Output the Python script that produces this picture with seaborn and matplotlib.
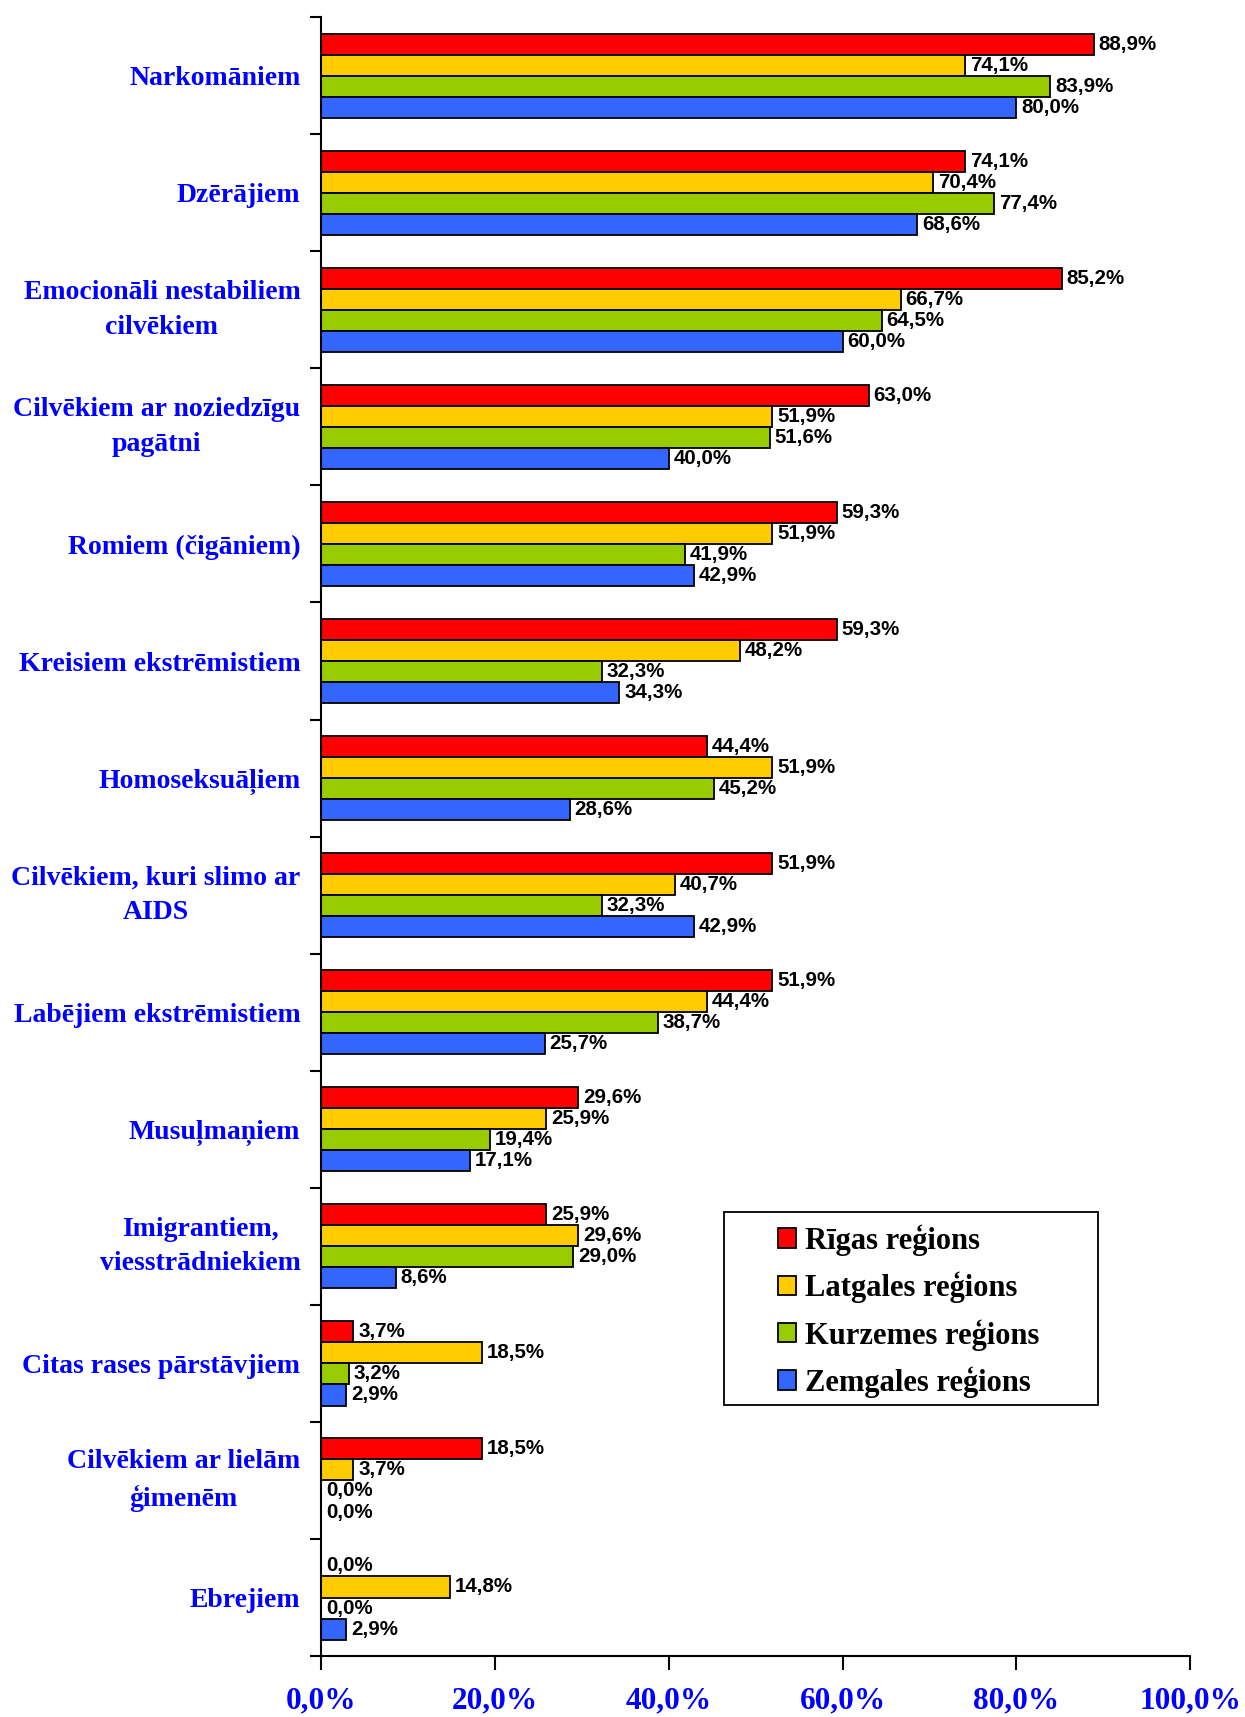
import numpy as np
import pandas as pd
import seaborn as sns
import matplotlib.pyplot as plt
from matplotlib.patches import Rectangle
from matplotlib.ticker import FixedLocator

# data
categories = ['Narkomāniem', 'Dzērājiem', 'Emocionāli nestabiliem\ncilvēkiem',
              'Cilvēkiem ar noziedzīgu\npagātni', 'Romiem (čigāniem)',
              'Kreisiem ekstrēmistiem', 'Homoseksuāļiem',
              'Cilvēkiem, kuri slimo ar\nAIDS', 'Labējiem ekstrēmistiem',
              'Musuļmaņiem', 'Imigrantiem,\nviesstrādniekiem',
              'Citas rases pārstāvjiem', 'Cilvēkiem ar lielām\nģimenēm', 'Ebrejiem']
regions = ['Rīgas reģions', 'Latgales reģions', 'Kurzemes reģions', 'Zemgales reģions']
rigas = [88.9, 74.1, 85.2, 63.0, 59.3, 59.3, 44.4, 51.9, 51.9, 29.6, 25.9, 3.7, 18.5, 0.0]
latgales = [74.1, 70.4, 66.7, 51.9, 51.9, 48.2, 51.9, 40.7, 44.4, 25.9, 29.6, 18.5, 3.7, 14.8]
kurzemes = [83.9, 77.4, 64.5, 51.6, 41.9, 32.3, 45.2, 32.3, 38.7, 19.4, 29.0, 3.2, 0.0, 0.0]
zemgales = [80.0, 68.6, 60.0, 40.0, 42.9, 34.3, 28.6, 42.9, 25.7, 17.1, 8.6, 2.9, 0.0, 2.9]
xticks = [0, 20, 40, 60, 80, 100]
colors = ['#FF0000', '#FFCC00', '#99CC00', '#3366FF']

series = [rigas, latgales, kurzemes, zemgales]
df = pd.DataFrame({
    'kategorija': categories * 4,
    'regions': np.repeat(regions, len(categories)),
    'vertiba': np.concatenate(series),
})

sns.set_theme(style='white')
serif = ['Liberation Serif', 'DejaVu Serif']
sans = ['Liberation Sans', 'DejaVu Sans']

fig = plt.figure(figsize=(12.45, 17.17), dpi=100)
ax = fig.add_axes([0.258, 0.0355, 0.698, 0.9545])

sns.barplot(data=df, x='vertiba', y='kategorija', hue='regions', orient='h',
            palette=colors, width=0.72, edgecolor='black', linewidth=1.3,
            saturation=1, ax=ax, legend=True)

for cont, vals in zip(ax.containers, series):
    labs = [f'{v:.1f}%'.replace('.', ',') for v in vals]
    ax.bar_label(cont, labels=labs, padding=3.5, fontsize=14.8,
                 fontweight='bold', family=sans, color='black')

ax.set_xlim(0, 100)
ax.set_ylim(len(categories) - 0.5, -0.5)
ax.set_xticks(xticks)
ax.set_xticklabels([f'{t:.1f}%'.replace('.', ',') for t in xticks],
                   fontsize=22.5, fontweight='bold', family=serif, color='#0000FF')
ax.set_yticks(range(len(categories)))
ax.set_yticklabels(categories, fontsize=20, fontweight='bold', family=serif,
                   color='#0000FF', multialignment='center', linespacing=1.5)
for t in ax.get_yticklabels():
    if '\n' in t.get_text():
        t.set_verticalalignment('center')
ax.yaxis.set_minor_locator(FixedLocator(np.arange(-0.5, len(categories), 1)))
ax.tick_params(axis='y', which='major', length=0, pad=15)
ax.tick_params(axis='y', which='minor', left=True, length=8, width=1.5, direction='out', color='black')
ax.tick_params(axis='x', which='major', bottom=True, length=10, width=1.5,
               direction='out', color='black', pad=12)
ax.set_xlabel('')
ax.set_ylabel('')

for s in ['top', 'right']:
    ax.spines[s].set_visible(False)
for s in ['left', 'bottom']:
    ax.spines[s].set_color('black')
    ax.spines[s].set_linewidth(1.5)

# legend with a hand-drawn box for the wide side padding
handles, labels = ax.get_legend_handles_labels()
leg = ax.legend(handles, labels, loc='center', bbox_to_anchor=(0.676, 0.2105),
                frameon=False, prop={'family': serif, 'weight': 'bold', 'size': 22},
                handlelength=0.6, handleheight=0.6, handletextpad=0.3, labelspacing=0.52)
for t in leg.get_texts():
    t.set_color('black')
ax.add_patch(Rectangle((0.463, 0.153), 0.431, 0.118, transform=ax.transAxes,
                       fill=False, edgecolor='black', linewidth=1.3, clip_on=False))

fig.savefig('out.png', dpi=100)
